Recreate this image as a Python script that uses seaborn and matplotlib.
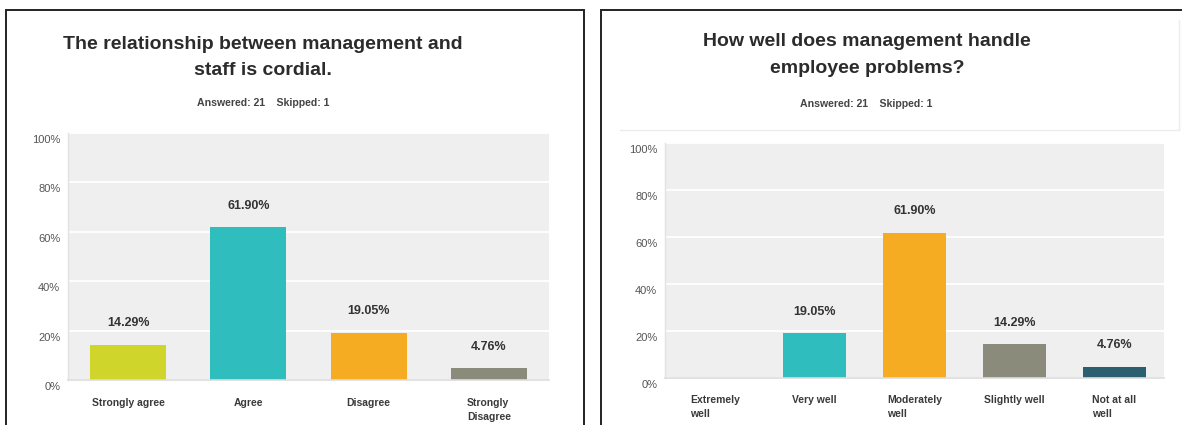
import matplotlib
matplotlib.use("Agg")
import matplotlib.pyplot as plt
import matplotlib.patches as mpatches
import matplotlib.lines as mlines
from matplotlib.transforms import ScaledTranslation
import pandas as pd
import seaborn as sns

# Survey question 1
q1_title = "The relationship between management and\nstaff is cordial."
q1_categories = ["Strongly agree", "Agree", "Disagree", "Strongly\nDisagree"]
q1_values = [14.29, 61.90, 19.05, 4.76]
q1_colors = ["#cfd52a", "#30bdbd", "#f5ab22", "#8b8b7b"]

# Survey question 2
q2_title = "How well does management handle\nemployee problems?"
q2_categories = ["Extremely\nwell", "Very well", "Moderately\nwell", "Slightly well", "Not at all\nwell"]
q2_values = [0.0, 19.05, 61.90, 14.29, 4.76]
q2_colors = ["#9ab83a", "#30bdbd", "#f5ab22", "#8b8b7b", "#2b5f70"]

response_note = "Answered: 21    Skipped: 1"
y_ticks = [0, 20, 40, 60, 80, 100]
y_tick_labels = ["0%", "20%", "40%", "60%", "80%", "100%"]

sns.set_theme(style="white")
plt.rcParams["font.family"] = ["Liberation Sans", "DejaVu Sans"]

W, H = 1182, 425
fig = plt.figure(figsize=(W / 100, H / 100), dpi=100)


def px_rect(x0, y_top, x1, y_bottom):
    """Convert pixel box (origin top-left) to figure fraction rect."""
    return [x0 / W, 1 - y_bottom / H, (x1 - x0) / W, (y_bottom - y_top) / H]


def draw_panel(rect, title, title_xy, note_xy, categories, values, colors,
               xpad):
    ax = fig.add_axes(rect)
    df = pd.DataFrame({"category": categories, "value": values})
    sns.barplot(data=df, x="category", y="value", hue="category",
                palette=colors, legend=False, width=0.63, ax=ax,
                saturation=1, order=categories, linewidth=0)
    ax.set_facecolor("#efefef")
    ax.set_ylim(0, 100)
    ax.set_xlim(-0.5, len(categories) - 0.5)
    ax.set_yticks(y_ticks)
    ax.set_yticklabels(y_tick_labels, fontsize=8, color="#555555")
    ax.set_xticks(range(len(categories)))
    ax.set_xticklabels(categories, fontsize=7.5, fontweight="bold",
                       color="#3a3a3a", ma="left", linespacing=1.55)
    ax.tick_params(axis="x", length=0, pad=xpad)
    ax.tick_params(axis="y", length=0, pad=5.5)
    ax.set_xlabel("")
    ax.set_ylabel("")
    ax.yaxis.grid(True, color="white", linewidth=1.3)
    ax.set_axisbelow(True)
    for side in ["top", "right"]:
        ax.spines[side].set_visible(False)
    ax.spines["left"].set_color("#e2e2e2")
    ax.spines["bottom"].set_color("#dddddd")
    ax.spines["left"].set_linewidth(1.0)
    ax.spines["bottom"].set_linewidth(1.2)

    # tick labels sit a little below their gridlines
    shift = ScaledTranslation(0, -6 / 100, fig.dpi_scale_trans)
    for lab in ax.get_yticklabels():
        lab.set_transform(lab.get_transform() + shift)

    for i, v in enumerate(values):
        if v > 0:
            ax.annotate(f"{v:.2f}%", xy=(i, v), xytext=(0, 15.5),
                        textcoords="offset points", ha="center",
                        va="center", fontsize=9, fontweight="bold",
                        color="#333333")

    fig.text(title_xy[0] / W, 1 - title_xy[1] / H, title, ha="center",
             va="center", fontsize=14, fontweight="bold", color="#2b2b2b",
             linespacing=1.75)
    fig.text(note_xy[0] / W, 1 - note_xy[1] / H, response_note,
             ha="center", va="center", fontsize=7.6, fontweight="bold",
             color="#444444")
    return ax


draw_panel(px_rect(68, 133, 549, 380), q1_title, (263, 57.5), (263, 103),
           q1_categories, q1_values, q1_colors, xpad=13)
draw_panel(px_rect(665, 143, 1164, 378), q2_title, (867, 55), (866, 104),
           q2_categories, q2_values, q2_colors, xpad=12)

# frames around each panel
for x0, x1 in [(6, 584), (601, 1190)]:
    fig.add_artist(mpatches.Rectangle(
        (x0 / W, -0.05), (x1 - x0) / W, 1.05 - 10 / H,
        transform=fig.transFigure, fill=False, edgecolor="#222222",
        linewidth=1.4))

# faint separator beneath the header of the second panel
fig.add_artist(mlines.Line2D([620 / W, 1179 / W], [1 - 130 / H, 1 - 130 / H],
                             transform=fig.transFigure, color="#ececec",
                             linewidth=1.0))
fig.add_artist(mlines.Line2D([1179 / W, 1179 / W], [1 - 20 / H, 1 - 130 / H],
                             transform=fig.transFigure, color="#ececec",
                             linewidth=1.0))

fig.savefig("out.png", dpi=100)
